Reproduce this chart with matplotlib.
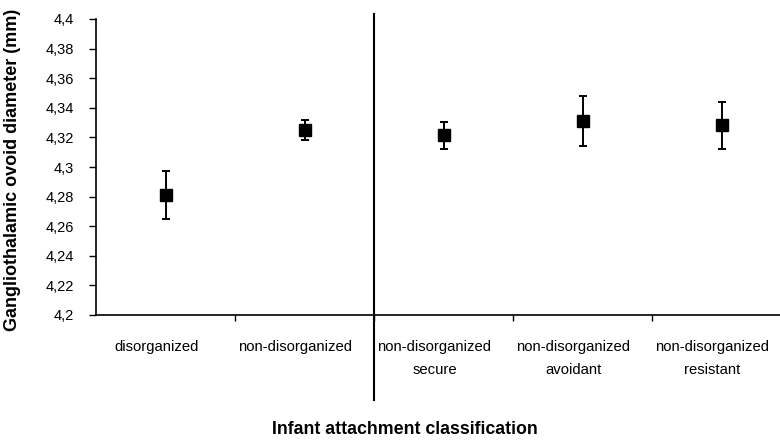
import matplotlib
matplotlib.use("Agg")
import matplotlib.pyplot as plt
from matplotlib import transforms
from matplotlib.lines import Line2D

# Group means and error half-widths (mm)
categories = [
    ["disorganized"],
    ["non-disorganized"],
    ["non-disorganized", "secure"],
    ["non-disorganized", "avoidant"],
    ["non-disorganized", "resistant"],
]
means = [4.281, 4.325, 4.3215, 4.3313, 4.3282]
errors = [0.016, 0.007, 0.009, 0.0168, 0.016]
y_ticks = [4.2, 4.22, 4.24, 4.26, 4.28, 4.3, 4.32, 4.34, 4.36, 4.38, 4.4]
y_tick_labels = ["4,2", "4,22", "4,24", "4,26", "4,28", "4,3",
                 "4,32", "4,34", "4,36", "4,38", "4,4"]

plt.rcParams["font.family"] = ["Liberation Sans", "DejaVu Sans"]

W, H = 780, 441
fig = plt.figure(figsize=(W / 100, H / 100), dpi=100)

# axes box in pixels
x0, x1 = 96, 780
y_bot, y_top = 315, 19
ax = fig.add_axes([x0 / W, 1 - y_bot / H, (x1 - x0) / W, (y_bot - y_top) / H])

bin_px = 139.0
xs = list(range(1, len(means) + 1))
ax.errorbar(xs, means, yerr=errors, fmt="s", color="black", ecolor="black",
            markersize=8, elinewidth=1.4, capsize=3.2, capthick=1.4,
            clip_on=False, zorder=3)

ax.set_xlim(0.5, 0.5 + (x1 - x0) / bin_px)
ax.set_ylim(4.2, 4.4)
ax.set_yticks(y_ticks)
ax.set_yticklabels(y_tick_labels, fontsize=10.5)
ax.tick_params(axis="y", direction="out", length=5, width=1, pad=11)

# category boundaries as ticks below the axis
ax.set_xticks([1.5, 2.5, 3.5, 4.5])
ax.set_xticklabels([])
ax.tick_params(axis="x", direction="out", length=4, width=1)

for side in ("top", "right"):
    ax.spines[side].set_visible(False)
for side in ("left", "bottom"):
    ax.spines[side].set_linewidth(1.2)

# separator between the two groupings, running past the axes
blend = transforms.blended_transform_factory(ax.transData, fig.transFigure)
fig.add_artist(Line2D([2.5, 2.5], [1 - 14 / H, 1 - 400 / H], transform=blend,
                      color="black", linewidth=1.5))

# category labels, one or two lines each
shift = 9 / bin_px
for x, lines in zip(xs, categories):
    for k, line in enumerate(lines):
        ax.text(x - shift, 1 - (347 + 23 * k) / H, line, transform=blend,
                ha="center", va="center", fontsize=10.7)

fig.text(405 / W, 1 - 430 / H, "Infant attachment classification",
         ha="center", va="center", fontsize=12.8, fontweight="bold")
fig.text(13 / W, 1 - 170 / H, "Gangliothalamic ovoid diameter (mm)",
         ha="center", va="center", rotation=90, fontsize=13,
         fontweight="bold")

fig.savefig("out.png", dpi=100)
